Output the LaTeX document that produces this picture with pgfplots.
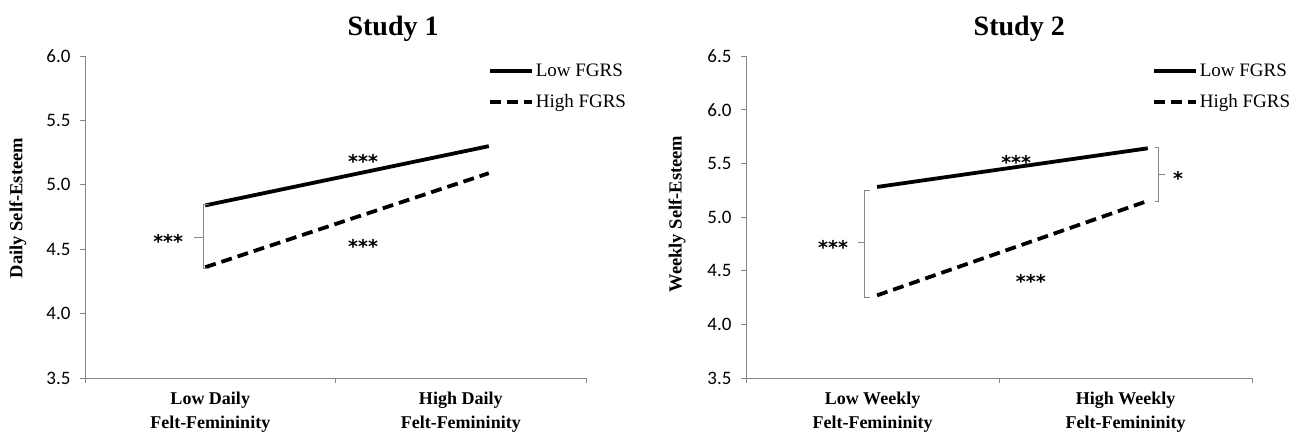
\documentclass[border=0pt]{standalone}
\usepackage{fontspec}
\setmainfont{Liberation Serif}
\newfontfamily\calfont{Carlito}
\newfontfamily\starfont{DejaVu Sans}
\usepackage{pgfplots}
\pgfplotsset{compat=1.18}
\definecolor{axgray}{RGB}{134,134,134}
\tikzset{
  solidline/.style={black, line width=3.8bp},
  dashline/.style={black, line width=3.8bp, dash pattern=on 11bp off 6bp},
  brk/.style={axgray, line width=1bp},
  star/.style={font=\starfont\bfseries\fontsize{19bp}{22bp}\selectfont, inner sep=0pt, anchor=center, yshift=-4bp},
}
\pgfplotsset{
  mystyle/.style={
    scale only axis, width=501bp, height=322bp,
    axis x line=bottom, axis y line=left,
    axis line style={axgray, line width=0.9bp, -},
    xmin=0, xmax=1, ymin=3.5,
    xtick={0,0.5,1}, xticklabels={},
    tick align=outside, major tick length=5bp,
    tick style={axgray, line width=0.9bp},
    ytick distance=0.5,
    yticklabel style={font=\calfont\fontsize{19bp}{22bp}\selectfont, /pgf/number format/.cd, fixed, fixed zerofill, precision=1, /tikz/.cd, xshift=-6bp},
    /pgf/number format/assume math mode=true,
    extra x ticks={0.25,0.75},
    extra x tick style={major tick length=0bp, tick label style={align=center, font=\bfseries\fontsize{18bp}{24bp}\selectfont, yshift=-10bp}},
    ylabel style={font=\bfseries\fontsize{18.5bp}{22bp}\selectfont, anchor=center},
    clip=false,
    legend style={draw=none, fill=none, inner sep=0pt, font=\fontsize{19bp}{22bp}\selectfont, cells={anchor=west}, row sep=12bp},
    legend cell align=left,
    legend image code/.code={\draw[##1] (0bp,0bp) -- (42bp,0bp);},
  },
}
\begin{document}
\begin{tikzpicture}
\path[use as bounding box] (0,0) rectangle (1293bp,434bp);
% ---------------- Study 1 ----------------
\begin{axis}[mystyle, at={(85bp,56bp)}, anchor=south west,
  ymax=6.0,
  extra x tick labels={Low Daily\\Felt-Femininity, High Daily\\Felt-Femininity},
  ylabel={Daily Self-Esteem},
  ylabel style={at={(axis description cs:-0.134,0.528)}},
  legend style={at={(axis description cs:0.804,0.981)}, anchor=north west},
]
\addplot[solidline] coordinates {(0.24,4.84) (0.806,5.30)};
\addlegendentry{Low FGRS}
\addplot[dashline] coordinates {(0.24,4.36) (0.806,5.09)};
\addlegendentry{High FGRS}
\draw[brk] (axis cs:0.248,4.85) -- (axis cs:0.236,4.85) -- (axis cs:0.236,4.35) -- (axis cs:0.248,4.35);
\draw[brk] (axis cs:0.236,4.59) -- (axis cs:0.218,4.59);
\node[star] at (axis cs:0.166,4.59) {***};
\node[star] at (axis cs:0.555,5.216) {***};
\node[star] at (axis cs:0.555,4.55) {***};
\node[font=\bfseries\fontsize{28bp}{32bp}\selectfont] at (axis cs:0.615,6.21) {Study 1};
\end{axis}
% ---------------- Study 2 ----------------
\begin{axis}[mystyle, at={(746bp,56bp)}, anchor=south west, width=506bp,
  ymax=6.5,
  extra x tick labels={Low Weekly\\Felt-Femininity, High Weekly\\Felt-Femininity},
  ylabel={Weekly Self-Esteem},
  ylabel style={at={(axis description cs:-0.136,0.509)}},
  legend style={at={(axis description cs:0.802,0.981)}, anchor=north west},
]
\addplot[solidline] coordinates {(0.259,5.28) (0.794,5.64)};
\addlegendentry{Low FGRS}
\addplot[dashline] coordinates {(0.259,4.27) (0.794,5.15)};
\addlegendentry{High FGRS}
\draw[brk] (axis cs:0.245,5.25) -- (axis cs:0.235,5.25) -- (axis cs:0.235,4.25) -- (axis cs:0.245,4.25);
\draw[brk] (axis cs:0.235,4.76) -- (axis cs:0.221,4.76);
\draw[brk] (axis cs:0.808,5.65) -- (axis cs:0.816,5.65) -- (axis cs:0.816,5.14) -- (axis cs:0.808,5.14);
\draw[brk] (axis cs:0.816,5.40) -- (axis cs:0.828,5.40);
\node[star] at (axis cs:0.172,4.75) {***};
\node[star] at (axis cs:0.534,5.55) {***};
\node[star] at (axis cs:0.563,4.44) {***};
\node[star] at (axis cs:0.854,5.40) {*};
\node[font=\bfseries\fontsize{28bp}{32bp}\selectfont] at (axis cs:0.54,6.75) {Study 2};
\end{axis}
\end{tikzpicture}
\end{document}
